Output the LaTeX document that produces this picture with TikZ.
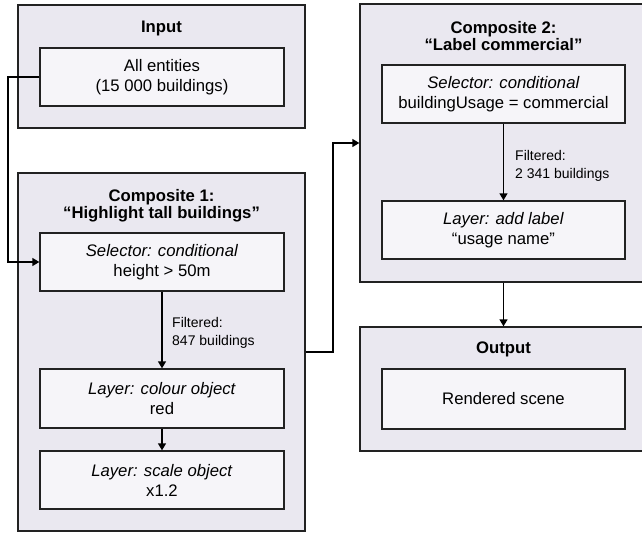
\documentclass[tikz,border=0pt]{standalone}
\usepackage{fontspec}
\setmainfont{Liberation Sans}
\usetikzlibrary{arrows.meta}
\definecolor{outerfill}{RGB}{234,232,240}
\definecolor{innerfill}{RGB}{246,245,249}
\definecolor{edge}{RGB}{34,34,34}
\begin{document}
\begin{tikzpicture}[x=1pt,y=-1pt,
  outerbox/.style={draw=edge, fill=outerfill, line width=1.3pt, inner sep=0pt, minimum width=287pt},
  innerbox/.style={draw=edge, fill=innerfill, line width=1.3pt, inner sep=0pt, minimum width=244pt, minimum height=58pt, align=center, font=\fontsize{16.7}{20}\selectfont},
  titletext/.style={anchor=base, inner sep=0pt, font=\fontsize{16.7}{17}\selectfont\bfseries},
  notetext/.style={anchor=base west, inner sep=0pt, align=left, font=\fontsize{14}{17.5}\selectfont},
  arr/.style={line width=1.3pt, draw=black, -{Triangle[length=7pt,width=8pt]}},
  link/.style={line width=1.3pt, draw=black}
]
\useasboundingbox (0,0) rectangle (642,533);
\clip (0,0) rectangle (642,533);

% outer containers
\node[outerbox, minimum height=123pt] (in) at (161.5,66.5) {};
\node[outerbox, minimum height=358pt] (comp1) at (161.5,352) {};
\node[outerbox, minimum height=278pt] (comp2) at (503.5,143) {};
\node[outerbox, minimum height=124pt] (out) at (503.5,389) {};

% titles
\node[titletext] (tin) at (161.5,32) {Input};
\node[titletext] (tc1a) at (161.5,201) {Composite 1:};
\node[titletext] (tc1b) at (161.5,218) {“Highlight tall buildings”};
\node[titletext] (tc2a) at (503.5,33) {Composite 2:};
\node[titletext] (tc2b) at (503.5,50) {“Label commercial”};
\node[titletext] (tout) at (503.5,353) {Output};

% inner boxes
\node[innerbox] (ent) at (162,77) {All entities\\(15 000 buildings)};
\node[innerbox] (sel1) at (162,262) {\textit{Selector: conditional}\\height > 50m};
\node[innerbox, minimum height=59pt] (col) at (162,398.5) {\textit{Layer: colour object}\\red};
\node[innerbox] (scl) at (162,480) {\textit{Layer: scale object}\\x1.2};
\node[innerbox, minimum width=243pt] (sel2) at (503.5,94) {\textit{Selector: conditional}\\buildingUsage = commercial};
\node[innerbox, minimum width=243pt] (lab) at (503.5,230) {\textit{Layer: add label}\\“usage name”};
\node[innerbox, minimum width=243pt, minimum height=60pt] (ren) at (503.5,399) {Rendered scene};

% notes
\node[notetext] (f1) at (172,345) {Filtered:\\847 buildings};
\node[notetext] (f2) at (515,178) {Filtered:\\2 341 buildings};

% connectors
\coordinate (c1) at (8,77);
\coordinate (c2) at (333,352);
\draw[link, -{Triangle[length=7pt,width=8pt]}] (ent.west) -- (c1) |- (sel1.west);
\draw[arr] (sel1.south) -- (col.north);
\draw[arr] (col.south) -- (scl.north);
\draw[link, -{Triangle[length=7pt,width=8pt]}] (comp1.east) -- (c2) |- (comp2.west);
\draw[arr] (sel2.south) -- (lab.north);
\draw[arr] (comp2.south) -- (out.north);
\end{tikzpicture}
\end{document}
